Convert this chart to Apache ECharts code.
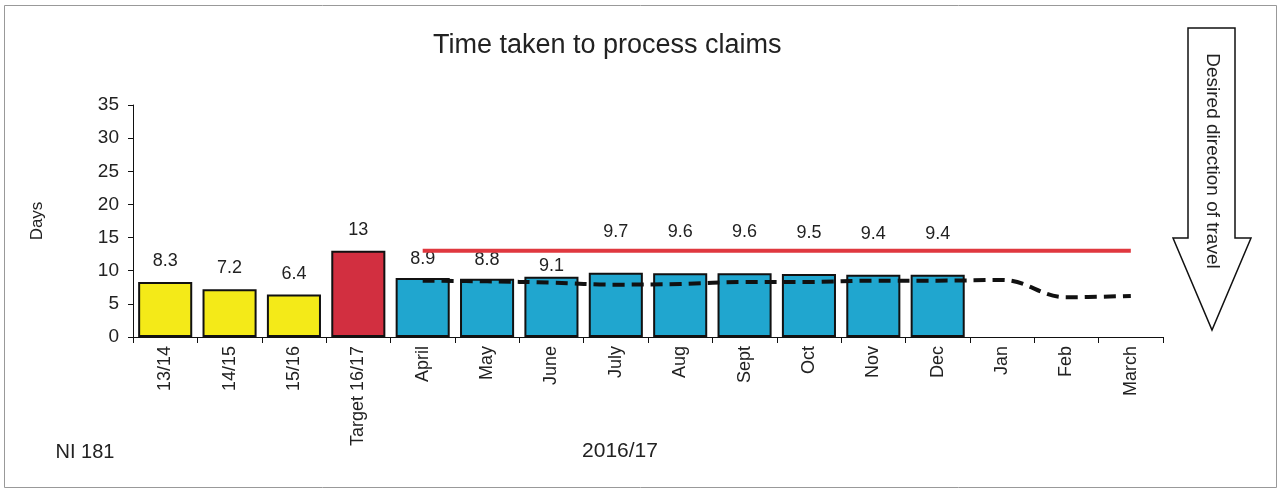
<!DOCTYPE html>
<html><head><meta charset="utf-8">
<script src="https://cdn.jsdelivr.net/npm/echarts@6/dist/echarts.min.js"></script>
<style>html,body{margin:0;padding:0;background:#fff}#c{width:1282px;height:492px}</style>
</head><body><div id="c"></div>
<script>
const categories = ['13/14','14/15','15/16','Target 16/17','April','May','June','July','Aug','Sept','Oct','Nov','Dec','Jan','Feb','March'];
const historic = [8.3, 7.2, 6.4];
const target = [13];
const monthly = [8.9, 8.8, 9.1, 9.7, 9.6, 9.6, 9.5, 9.4, 9.4];
const targetLine = [null, null, null, null, 13, 13, 13, 13, 13, 13, 13, 13, 13, 13, 13, 13];
const trendLine = [null, null, null, null, 8.5, 8.4, 8.2, 7.9, 8.0, 8.3, 8.3, 8.5, 8.5, 8.6, 6.0, 6.2];
const yTicks = [0, 5, 10, 15, 20, 25, 30, 35];

const FONT = 'Liberation Sans';
const colors = { hist: '#F4EA18', target: '#D22F40', month: '#20A6CF' };
const barData = [];
historic.forEach(v => barData.push({ value: v, itemStyle: { color: colors.hist } }));
target.forEach(v => barData.push({ value: v, itemStyle: { color: colors.target } }));
monthly.forEach((v, i) => barData.push({
  value: v, itemStyle: { color: colors.month },
  label: { distance: i >= 3 ? 32 : (i === 2 ? 2 : 10) }
}));

const chart = echarts.init(document.getElementById('c'));
chart.setOption({
  animation: false,
  backgroundColor: '#fff',
  title: { text: 'Time taken to process claims', left: 428, top: 27,
    textStyle: { fontFamily: FONT, fontSize: 27, fontWeight: 'normal', color: '#222' } },
  grid: { left: 133, right: 119, top: 105, bottom: 155 },
  xAxis: {
    type: 'category', data: categories,
    axisLine: { lineStyle: { color: '#111', width: 1 } },
    axisTick: { show: true, length: 6, lineStyle: { color: '#111' } },
    axisLabel: { rotate: 90, fontFamily: FONT, fontSize: 18, color: '#222', margin: 9, interval: 0 }
  },
  yAxis: {
    type: 'value', min: yTicks[0], max: yTicks[yTicks.length - 1], interval: 5,
    axisLine: { show: true, lineStyle: { color: '#111' } },
    axisTick: { show: true, length: 5, lineStyle: { color: '#111' } },
    splitLine: { show: false },
    axisLabel: { fontFamily: FONT, fontSize: 19, color: '#222', margin: 14 }
  },
  series: [
    { type: 'bar', data: barData, barCategoryGap: '16%',
      itemStyle: { borderColor: '#111', borderWidth: 2 },
      label: { show: true, position: 'top', distance: 12, fontFamily: FONT, fontSize: 18, color: '#222' },
      z: 2 },
    { type: 'line', data: targetLine, symbol: 'none',
      lineStyle: { color: '#E0383F', width: 4 }, z: 3 },
    { type: 'line', data: trendLine, symbol: 'none', smooth: 0.4,
      lineStyle: { color: '#111', width: 4, type: [12, 7] }, z: 4 }
  ],
  graphic: [
    { type: 'rect', shape: { x: 4.5, y: 5.5, width: 1272, height: 482 },
      style: { fill: 'none', stroke: '#999', lineWidth: 1 }, silent: true },
    { type: 'text', x: 37, y: 221, rotation: Math.PI / 2,
      style: { text: 'Days', fontFamily: FONT, fontSize: 17, fill: '#222', textAlign: 'center', textVerticalAlign: 'middle' } },
    { type: 'text', x: 85, y: 452,
      style: { text: 'NI 181', fontFamily: FONT, fontSize: 20, fill: '#222', textAlign: 'center', textVerticalAlign: 'middle' } },
    { type: 'text', x: 620, y: 451,
      style: { text: '2016/17', fontFamily: FONT, fontSize: 21, fill: '#222', textAlign: 'center', textVerticalAlign: 'middle' } },
    { type: 'polygon', shape: { points: [[1188, 28], [1235, 28], [1235, 238], [1251, 238], [1212, 330], [1173, 238], [1188, 238]] },
      style: { fill: '#fff', stroke: '#111', lineWidth: 1.5 } },
    { type: 'text', x: 1212, y: 161, rotation: -Math.PI / 2,
      style: { text: 'Desired direction of travel', fontFamily: FONT, fontSize: 19, fill: '#222', textAlign: 'center', textVerticalAlign: 'middle' } }
  ]
});
</script></body></html>
